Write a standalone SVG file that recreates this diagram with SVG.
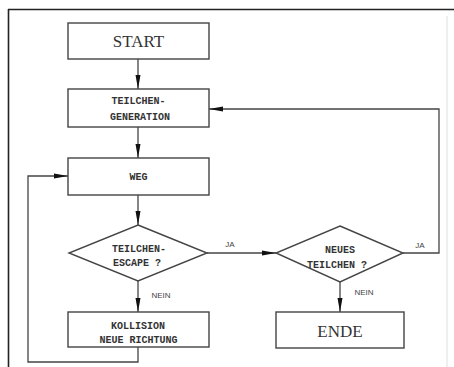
<svg xmlns="http://www.w3.org/2000/svg" width="454" height="367" viewBox="0 0 454 367">
<defs>
<style>
.frame{stroke:#222;stroke-width:1.6;fill:none}
.faint{stroke:#e4e4e4;stroke-width:1.2;fill:none}
.box{fill:#fff;stroke:#444;stroke-width:1.4}
.line{stroke:#444;stroke-width:1.3;fill:none}
.big{font-family:"Liberation Serif",serif;font-size:17px;fill:#333;text-anchor:middle}
.txt{font-family:"Liberation Mono",monospace;font-size:10px;font-weight:bold;fill:#333;text-anchor:middle}
.lbl{font-family:"Liberation Sans",sans-serif;font-size:8px;fill:#444;text-anchor:middle}
</style>
<marker id="arr" viewBox="0 0 14 6" refX="14" refY="3" markerWidth="14" markerHeight="6" markerUnits="userSpaceOnUse" orient="auto">
<path d="M0,0.5 L14,3 L0,5.5 Z" fill="#111"/>
</marker>
</defs>
<rect width="454" height="367" fill="#fff"/>
<g id="frame">
<line class="frame" x1="8" y1="9.5" x2="454" y2="9.5"/>
<line class="frame" x1="8.5" y1="9" x2="8.5" y2="367"/>
<line class="faint" x1="447" y1="16" x2="447" y2="367"/>
</g>
<g id="connectors">
<line class="line" x1="138" y1="59" x2="138" y2="89" marker-end="url(#arr)"/>
<line class="line" x1="138" y1="127" x2="138" y2="158" marker-end="url(#arr)"/>
<line class="line" x1="138" y1="195" x2="138" y2="225" marker-end="url(#arr)"/>
<line class="line" x1="138" y1="281" x2="138" y2="312" marker-end="url(#arr)"/>
<polyline class="line" points="138,347 138,362 28,362 28,176 68,176" marker-end="url(#arr)"/>
<line class="line" x1="207" y1="253" x2="276" y2="253" marker-end="url(#arr)"/>
<polyline class="line" points="403,253 439,253 439,109 209,109" marker-end="url(#arr)"/>
<line class="line" x1="340" y1="282" x2="340" y2="312" marker-end="url(#arr)"/>
<text class="lbl" x="230" y="247">JA</text>
<text class="lbl" x="420" y="248">JA</text>
<text class="lbl" x="161" y="298">NEIN</text>
<text class="lbl" x="364" y="295">NEIN</text>
</g>
<g id="start">
<rect class="box" x="68" y="23" width="141" height="36"/>
<text class="big" x="138.5" y="47">START</text>
</g>
<g id="generation">
<rect class="box" x="68" y="89" width="141" height="38"/>
<text class="txt" x="138.5" y="104">TEILCHEN-</text>
<text class="txt" x="140" y="120">GENERATION</text>
</g>
<g id="weg">
<rect class="box" x="68" y="158" width="141" height="37"/>
<text class="txt" x="138.5" y="180">WEG</text>
</g>
<g id="escape">
<polygon class="box" points="138,225 207,253 138,281 69,253"/>
<text class="txt" x="139" y="252">TEILCHEN-</text>
<text class="txt" x="137" y="266">ESCAPE ?</text>
</g>
<g id="kollision">
<rect class="box" x="68" y="312" width="141" height="35"/>
<text class="txt" x="138" y="329">KOLLISION</text>
<text class="txt" x="138.5" y="343">NEUE RICHTUNG</text>
</g>
<g id="neues">
<polygon class="box" points="340,226 403,253 340,282 276,253"/>
<text class="txt" x="340" y="253">NEUES</text>
<text class="txt" x="337" y="268">TEILCHEN ?</text>
</g>
<g id="ende">
<rect class="box" x="276" y="312" width="128" height="36"/>
<text class="big" x="340" y="337">ENDE</text>
</g>
</svg>
